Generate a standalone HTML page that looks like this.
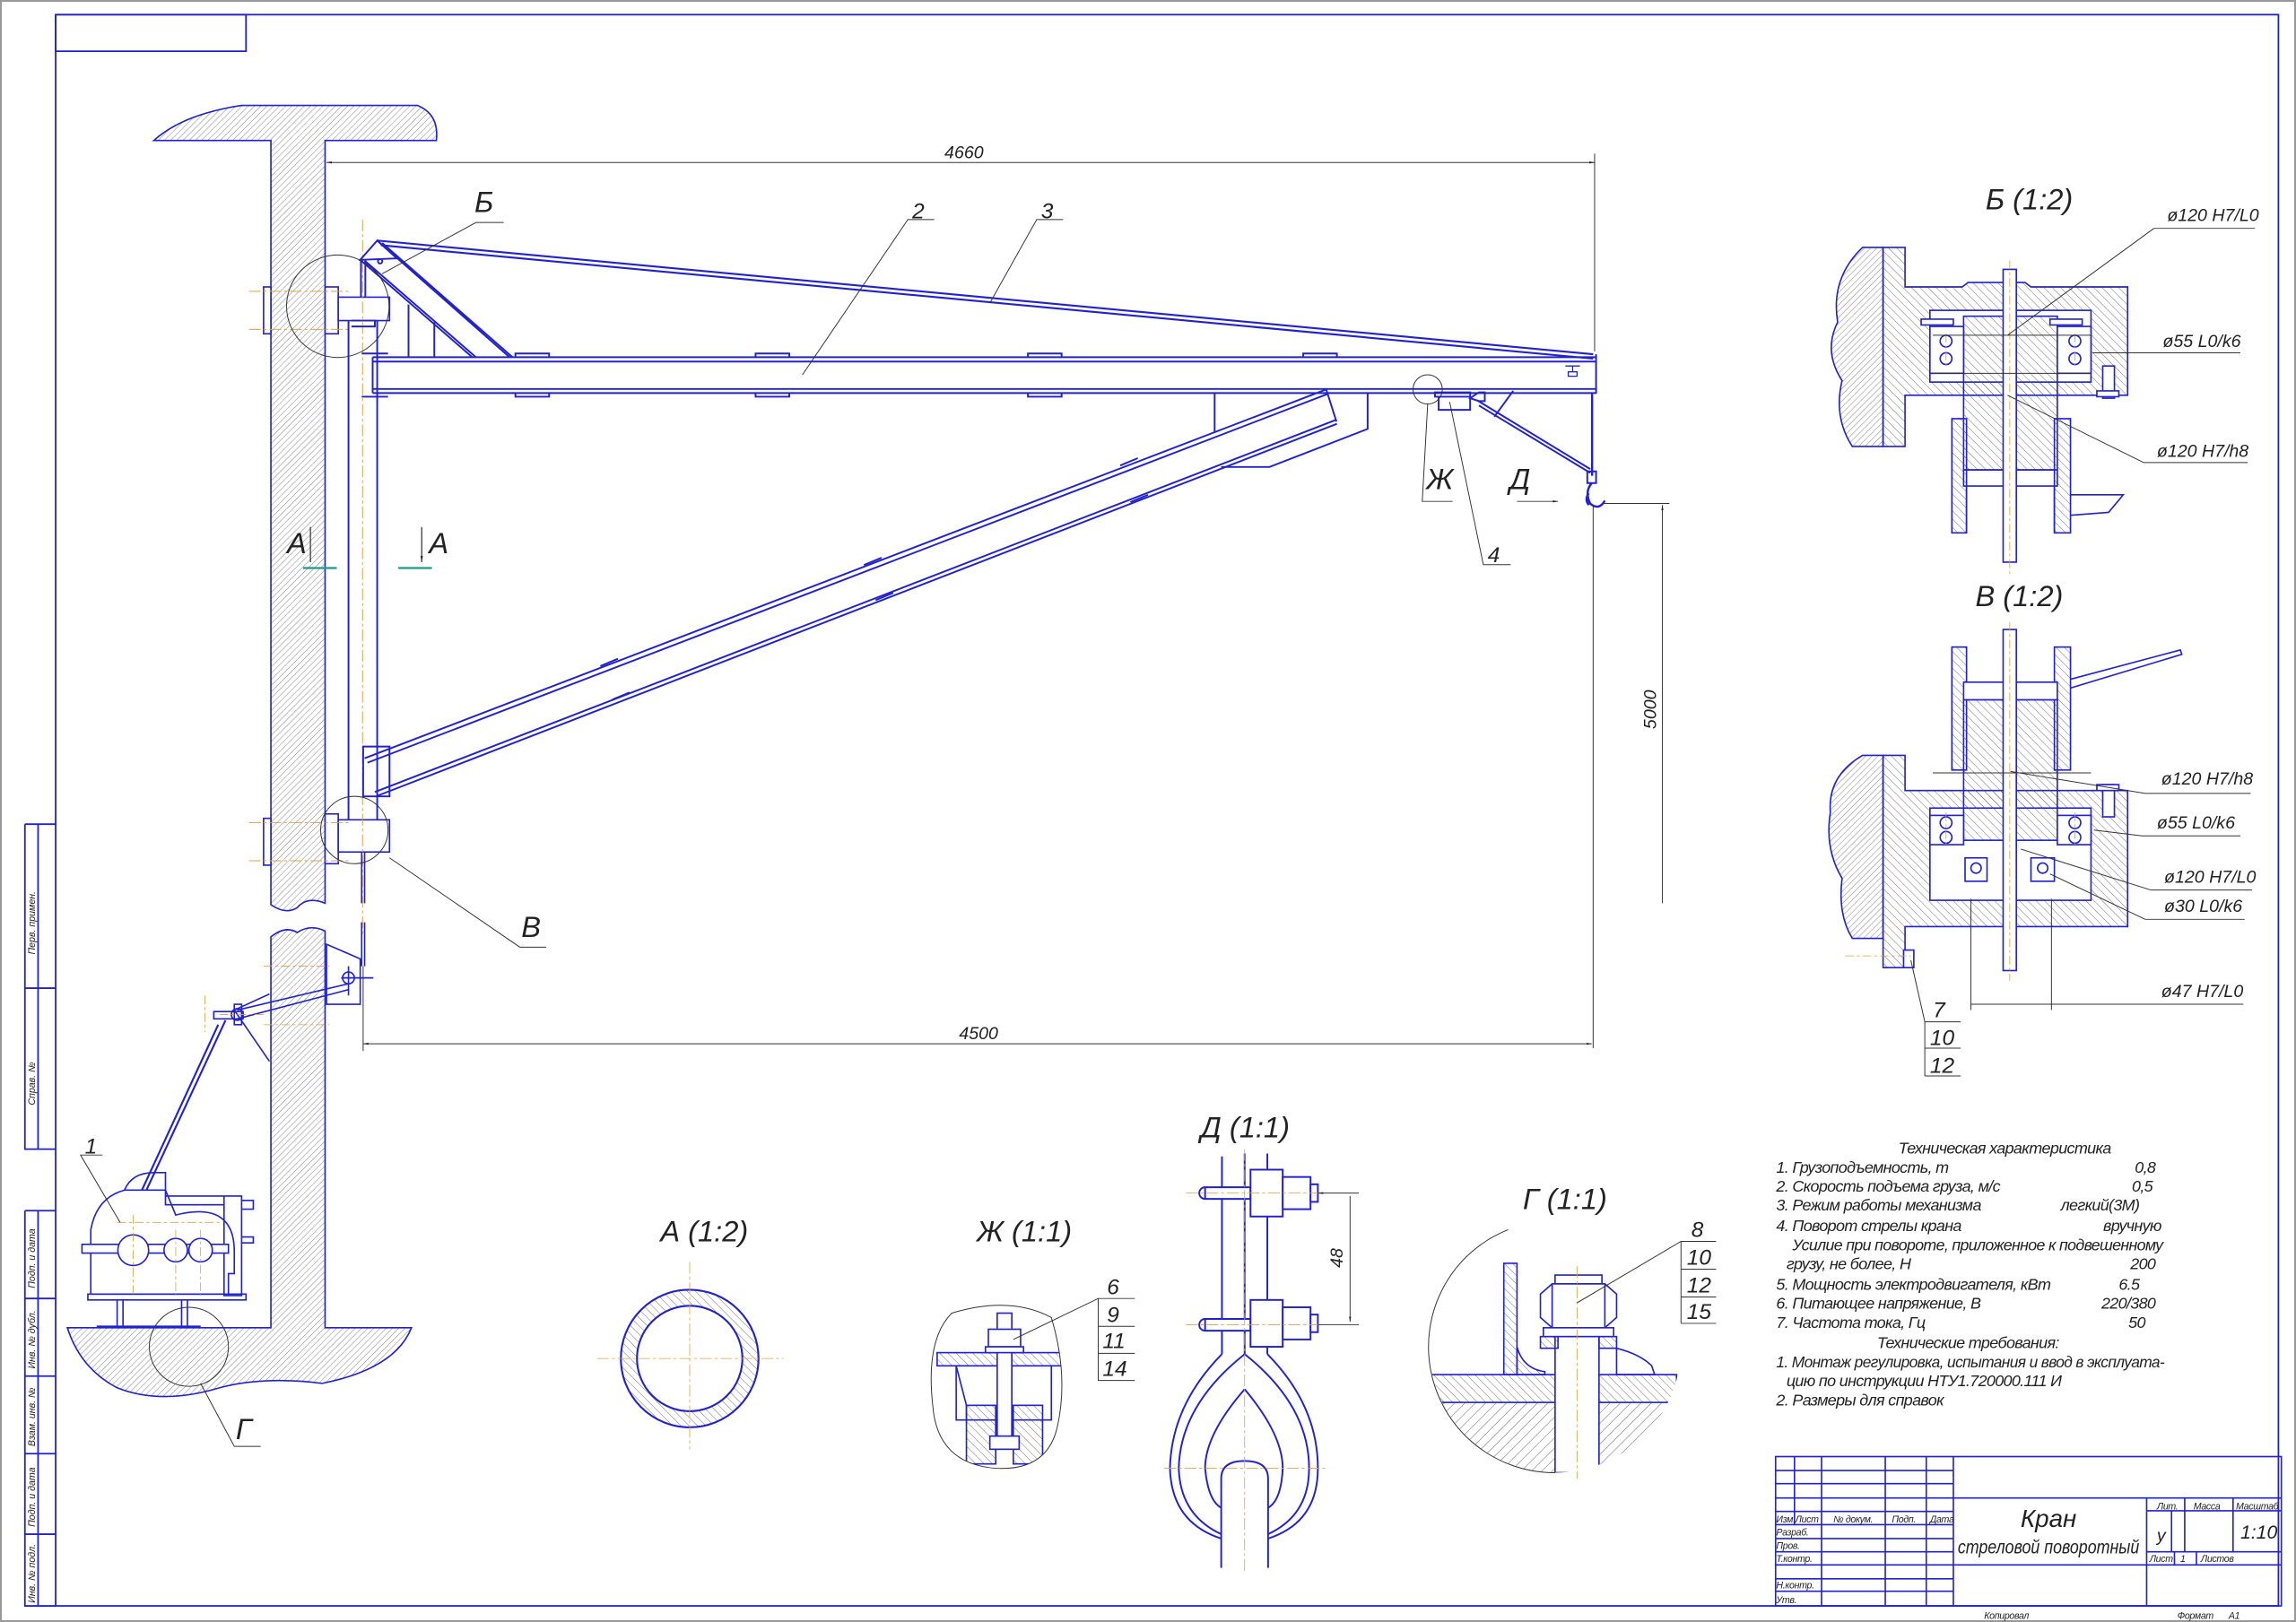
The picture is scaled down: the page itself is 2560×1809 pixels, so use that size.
<!DOCTYPE html>
<html><head><meta charset="utf-8"><style>
html,body{margin:0;padding:0;background:#fff}
svg{display:block}
text{font-family:"Liberation Sans Narrow","Liberation Sans",sans-serif;font-style:italic;fill:#222}
</style></head><body>
<svg width="2560" height="1809" viewBox="0 0 1568 1108" preserveAspectRatio="none" xmlns="http://www.w3.org/2000/svg">
<defs>
<pattern id="h" width="3" height="3" patternUnits="userSpaceOnUse" patternTransform="rotate(45)"><line x1="0" y1="0" x2="0" y2="3" stroke="#666" stroke-width="0.5"/></pattern>
<pattern id="h2" width="4" height="4" patternUnits="userSpaceOnUse" patternTransform="rotate(-45)"><line x1="0" y1="0" x2="0" y2="4" stroke="#555" stroke-width="0.5"/></pattern>
<pattern id="h3" width="5" height="5" patternUnits="userSpaceOnUse" patternTransform="rotate(45)"><line x1="0" y1="0" x2="0" y2="5" stroke="#444" stroke-width="0.5"/></pattern>
<marker id="ar" viewBox="0 0 10 10" refX="10" refY="5" markerWidth="6" markerHeight="6" orient="auto-start-reverse"><path d="M0,3L10,5L0,7z" fill="#222"/></marker>
<clipPath id="gclip"><circle cx="1062" cy="920" r="86"/></clipPath>
<clipPath id="zclip"><path d="M650,897 Q690,885 718,900 Q730,940 722,975 Q715,1005 680,1003 Q640,1000 637,960 Q632,915 650,897z"/></clipPath>
</defs>
<rect x="0.5" y="0.5" width="1567" height="1107" fill="none" stroke="#999" stroke-width="1.5"/>
<g fill="none" stroke="#2222cc" stroke-width="1.1">
<rect x="38" y="10" width="1518" height="1087"/>
<rect x="38" y="10" width="130" height="25"/>
<path d="M17,563H38M17,563V785H38M26,563V785M17,675H38M17,827H38M17,827V1097H38M26,827V1097M17,887H38M17,940H38M17,993H38M17,1048H38"/>
</g>
<g font-size="6.5">
<text transform="translate(24,652) rotate(-90)">Перв. примен.</text>
<text transform="translate(24,755) rotate(-90)">Справ. №</text>
<text transform="translate(24,880) rotate(-90)">Подп. и дата</text>
<text transform="translate(24,935) rotate(-90)">Инв. № дубл.</text>
<text transform="translate(24,988) rotate(-90)">Взам. инв. №</text>
<text transform="translate(24,1043) rotate(-90)">Подп. и дата</text>
<text transform="translate(24,1095) rotate(-90)">Инв. № подл.</text>
</g>

<g stroke="#2222cc" stroke-width="1" fill="url(#h)">
<path d="M105,96 Q125,78 165,72 L285,72 Q300,78 298,96 L222,96 L222,617 Q210,612 203,620 Q195,625 185,618 L185,96 Z"/>
<path d="M185,640 Q195,632 203,637 Q212,631 222,636 L222,907 L281,907 Q270,935 220,945 Q180,940 150,948 Q110,960 80,948 Q55,935 46,907 L185,907 Z"/>
</g>
<g fill="#fff" stroke="#2222cc" stroke-width="1">
<rect x="180" y="196" width="5" height="32"/>
<rect x="222" y="196" width="9" height="32"/>
<rect x="231" y="203" width="35" height="16"/>
<rect x="180" y="559" width="5" height="32"/>
<rect x="222" y="556" width="9" height="34"/>
<rect x="231" y="560" width="35" height="22"/>
</g>
<g stroke="#e0a040" stroke-width="0.6" fill="none" stroke-dasharray="8,2,2,2">
<path d="M170,199H238M170,225H238M247.6,150V640M170,562H240M170,588H240"/>
</g>
<g stroke="#2222cc" stroke-width="1.2" fill="none">
<path d="M238,219V560M257.6,219V560M240,219h16v4h-16"/>
<path d="M246.5,178V203M249.5,178V203"/>
<path d="M246,177.5L257.6,164.3L271,176.5Z"/>
<circle cx="259.6" cy="178.5" r="1.5"/>
<path d="M246,177.5L322.5,244M249,178L325,244M257.6,164.3L348,244M261,166L350,244"/>
<path d="M279,208V244M296.6,220V244"/>
<path d="M257.6,164.3L1088,242M260,167.5L1088,245" stroke-width="1.3"/>
<path d="M254.5,244H1090M254.5,247H1090M254.5,265.7H1090M254.5,268.5H1090M254.5,244V268.5M1090,242V269" />
<path d="M247,241.5H265M247,271H265"/>
<path d="M352,244v-2.5h23v2.5M352,268.5v2.5h23v-2.5M516,244v-2.5h23v2.5M516,268.5v2.5h23v-2.5M702,244v-2.5h23v2.5M702,268.5v2.5h23v-2.5M890,244v-2.5h23v2.5"/>
<path d="M1069,250h10M1074,250v4M1071,254h6v3h-6z" stroke-width="0.8"/>
<path d="M249,518L905.7,266M251,521L907,269M256,541L912.7,286.7M258,543.5L913,289.5M905.7,266L912.7,288"/>
<path d="M248,510H266V544H248Z"/>
<path d="M410,455l12,-5M418,478l12,-5M590,386l12,-5M598,410l12,-5M765,318l12,-5M772,343l12,-5"/>
<path d="M829.5,268V295M934,268V293L867,319H834"/>
<path d="M980,268h24v3h-24zM982.5,271h21.5v9h-21.5zM1004,272l6,-4h4v6h-4z"/>
<path d="M1008.8,273.5L1086,320.4M1010,277L1086,323M1020.5,284.7L1033.4,267"/>
<path d="M1087.3,269V325" stroke-width="1.5"/>
<path d="M1084,322h6v8h-6z"/>
<path d="M1087,330 q-5,6 -1,14 q6,5 10,-2 M1085,337 q-3,4 0,8" stroke-width="1.5"/>
</g>
<g fill="none" stroke="#333" stroke-width="0.6">
<circle cx="230.7" cy="209.2" r="35"/>
<circle cx="242" cy="567" r="23"/>
<circle cx="975" cy="266" r="10"/>
<circle cx="129" cy="920" r="27"/>
</g>
<g stroke="#2222cc" stroke-width="1" fill="none">
<path d="M247,582V617M249,582V617M247,630V660M249,630V660" />
<path d="M223,645L246,655L246,686L223,686Z"/>
<circle cx="238" cy="668" r="4"/>
<path d="M233,668h22M238,660v20"/>
<path d="M184,679L160,690L184,725"/>
<circle cx="162" cy="693" r="4"/>
<path d="M146,691h20v5h-20z"/>
<path d="M160,686h5v14h-5z"/>
<path d="M162,690L238,672M162,696L238,676" />
<path d="M154,697L93,828M149,700L90,828" stroke-width="1.3"/>
<path d="M62,884V840Q66,818 85,813H113L120,830Q160,820 160,855V870H156V884Z" fill="#fff"/>
<path d="M113,817h40v6h-40z M153,817h12v68h-12z M165,820h8v6h-8zM165,845h8v4h-8z"/>
<path d="M56,850h100v6h-100z" fill="#fff"/>
<circle cx="91" cy="854" r="10.5" fill="#fff"/>
<circle cx="120" cy="854" r="8" fill="#fff"/>
<circle cx="137" cy="854" r="8" fill="#fff"/>
<path d="M60,884h108v4h-108zM80,888v18M84,888v18M124,888v18M128,888v18M66,906h71"/>
<path d="M85,813q5,-12 20,-12h8v16"/>
</g>
<g stroke="#e0a040" stroke-width="0.5" fill="none" stroke-dasharray="6,2,2,2"><path d="M80,835h70M91,830v55M120,840v45M137,840v45M140,680v25M150,693h30M180,660h45M180,700h45"/></g>
<g stroke="#333" stroke-width="0.6" fill="none">
<path d="M1089,105V240M1088,345V716"/>
<path d="M223,111H1089" marker-start="url(#ar)" marker-end="url(#ar)"/>
<path d="M248,713H1087" marker-start="url(#ar)" marker-end="url(#ar)"/>
<path d="M248,660V718"/>
<path d="M1135.3,345V617" marker-start="url(#ar)"/>
<path d="M1095,343.9H1140"/>
<path d="M344,152H325L261,187"/>
<path d="M638,150H620L548,256"/>
<path d="M726,150H708L676,207"/>
<path d="M373,647H355L266,586"/>
<path d="M70,789H55L82,835"/>
<path d="M178,988H160L137,945"/>
<path d="M992,342.5H971.3L975,276"/>
<path d="M1031.7,385.7H1013L990,274.5"/>
<path d="M1036,342.5H1064" marker-end="url(#ar)"/>
</g>
<g stroke="#229988" stroke-width="1.4"><path d="M207,388H230M272,388H295"/></g>
<g stroke="#222" stroke-width="0.7" fill="none"><path d="M212,360V384M288,360V384" marker-end="url(#ar)"/></g>
<g font-size="12" font-style="italic">
<text x="645" y="108">4660</text>
<text x="655" y="710">4500</text>
<text transform="translate(1131,498) rotate(-90)">5000</text>
<text x="623" y="149" font-size="15">2</text>
<text x="711" y="149" font-size="15">3</text>
<text x="58" y="788" font-size="15">1</text>
<text x="1016" y="384" font-size="15">4</text>
</g>
<g font-size="20" style="font-style:normal">
<text x="324" y="145">Б</text>
<text x="196" y="378">А</text>
<text x="293" y="378">А</text>
<text x="356" y="640">В</text>
<text x="161" y="983">Г</text>
<text x="974" y="334">Ж</text>
<text x="1031" y="334">Д</text>
</g>

<text x="1356" y="143" font-size="20">Б (1:2)</text>
<g stroke="#2222cc" stroke-width="1">
<path d="M1272,169 L1286,169 L1286,305 L1265,305 Q1252,285 1258,260 Q1245,240 1255,220 Q1250,190 1272,169Z" fill="url(#h)"/>
<path d="M1286,169H1301V196H1340L1344,193H1383L1387,196H1453V270H1301V305H1286Z" fill="url(#h2)"/>
<rect x="1318" y="212" width="110" height="49" fill="#fff"/>
<rect x="1341" y="216" width="64" height="105" fill="url(#h2)"/>
<rect x="1318" y="223" width="23" height="32" fill="#fff"/><rect x="1405" y="223" width="23" height="32" fill="#fff"/>
<circle cx="1329" cy="233" r="4" fill="none"/><circle cx="1329" cy="245" r="4" fill="none"/>
<circle cx="1417" cy="233" r="4" fill="none"/><circle cx="1417" cy="245" r="4" fill="none"/>
<path d="M1312,218h22v4h-22zM1400,218h22v4h-22z" fill="#fff"/>
<rect x="1333" y="286" width="10" height="78" fill="url(#h2)"/><rect x="1403" y="286" width="11" height="78" fill="url(#h2)"/>
<path d="M1341,321H1405V332H1341ZM1343,332V364M1403,332V364" fill="none"/>
<path d="M1414,338L1450,338L1440,350L1414,352" fill="none"/>
<rect x="1368" y="184" width="9" height="200" fill="#fff"/>
<rect x="1436" y="250" width="8" height="22" fill="#fff"/><path d="M1432,267h15v4h-15z" fill="#fff"/>
</g>
<g stroke="#e0a040" stroke-width="0.5" stroke-dasharray="6,2,2,2"><path d="M1372.5,178V392M1329,228v22M1417,228v22"/></g>
<g stroke="#333" stroke-width="0.6" fill="none">
<path d="M1471,156H1540M1471,156L1371,229"/>
<path d="M1429,241H1530M1320,229H1428M1320,255H1428"/>
<path d="M1464,316H1535M1464,316L1371,270"/>
</g>
<g font-size="12"><text x="1480" y="151">ø120 H7/L0</text><text x="1477" y="237">ø55 L0/k6</text><text x="1473" y="312">ø120 H7/h8</text></g>

<text x="1349" y="414" font-size="20">В (1:2)</text>
<g stroke="#2222cc" stroke-width="1">
<path d="M1272,516 L1286,516 L1286,641 L1265,641 Q1255,625 1258,600 Q1246,580 1250,555 Q1248,530 1272,516Z" fill="url(#h)"/>
<path d="M1286,516H1301V540H1453V633H1301V661H1286Z" fill="url(#h2)"/>
<rect x="1318" y="552" width="110" height="63" fill="#fff"/>
<rect x="1341" y="478" width="64" height="96" fill="url(#h2)"/>
<rect x="1333" y="442" width="10" height="84" fill="url(#h2)"/><rect x="1403" y="442" width="11" height="84" fill="url(#h2)"/>
<path d="M1341,466H1405V478H1341Z" fill="#fff"/>
<rect x="1318" y="557" width="23" height="20" fill="#fff"/><rect x="1405" y="557" width="23" height="20" fill="#fff"/>
<circle cx="1329" cy="562" r="4" fill="none"/><circle cx="1329" cy="572" r="4" fill="none"/>
<circle cx="1417" cy="562" r="4" fill="none"/><circle cx="1417" cy="572" r="4" fill="none"/>
<rect x="1342" y="586" width="15" height="16" fill="#fff"/><rect x="1387" y="586" width="16" height="16" fill="#fff"/>
<circle cx="1349.5" cy="593" r="3.5" fill="none"/><circle cx="1395" cy="593" r="3.5" fill="none"/>
<rect x="1368" y="430" width="9" height="233" fill="#fff"/>
<path d="M1414,464L1489,444L1490,447L1414,470" fill="none"/>
<rect x="1436" y="536" width="8" height="22" fill="#fff"/><path d="M1432,536h15v4h-15z" fill="#fff"/>
<rect x="1300" y="649" width="7" height="12" fill="#fff"/>
</g>
<g stroke="#e0a040" stroke-width="0.5" stroke-dasharray="6,2,2,2"><path d="M1372.5,425V670M1329,555v22M1417,555v22M1260,653h45"/></g>
<g stroke="#333" stroke-width="0.6" fill="none">
<path d="M1320,528H1428M1465,542H1537M1465,542L1373,527"/>
<path d="M1463,571H1530M1463,571L1430,567"/>
<path d="M1469,608H1538M1469,608L1380,580"/>
<path d="M1465,628H1533M1465,628L1400,597"/>
<path d="M1346,614V690M1401,614V690M1346,686H1532"/>
<path d="M1305,656L1314.5,698V735M1314.5,698H1339M1314.5,716H1339M1314.5,735H1339"/>
</g>
<g font-size="12"><text x="1476" y="536">ø120 H7/h8</text><text x="1473" y="566">ø55 L0/k6</text><text x="1478" y="603">ø120 H7/L0</text><text x="1478" y="623">ø30 L0/k6</text><text x="1476" y="681">ø47 H7/L0</text></g>
<g font-size="15"><text x="1320" y="695">7</text><text x="1318" y="714">10</text><text x="1318" y="733">12</text></g>

<text x="451" y="848" font-size="20">А (1:2)</text>
<circle cx="471" cy="928" r="47" fill="url(#h2)" stroke="#2222cc" stroke-width="1.3"/>
<circle cx="471" cy="928" r="36" fill="#fff" stroke="#2222cc" stroke-width="1.3"/>
<path d="M408,928H535M471,862V990" stroke="#e0a040" stroke-width="0.5" stroke-dasharray="8,2,2,2"/>

<text x="667" y="848" font-size="20">Ж (1:1)</text>
<path d="M650,897 Q690,885 718,900 Q730,940 722,975 Q715,1005 680,1003 Q640,1000 637,960 Q632,915 650,897z" fill="none" stroke="#333" stroke-width="0.6"/>
<g clip-path="url(#zclip)" stroke="#2222cc" stroke-width="1">
<rect x="640" y="924" width="90" height="9" fill="url(#h2)"/>
<path d="M653,933H718V970H653Z" fill="#fff"/>
<path d="M653,933L660,960V970" fill="none"/>
<rect x="660" y="960" width="20" height="40" fill="url(#h2)"/><rect x="692" y="960" width="20" height="40" fill="url(#h2)"/>
<rect x="681" y="897" width="10" height="92" fill="#fff"/>
<rect x="675" y="908" width="22" height="12" fill="#fff"/>
<rect x="673" y="920" width="26" height="4" fill="#fff"/>
<rect x="676" y="981" width="20" height="9" fill="#fff"/>
</g>
<g stroke="#333" stroke-width="0.6" fill="none"><path d="M692,915L750,887H775M750,887V943H775M750,906H775M750,924.5H775M750,943H775"/></g>
<g font-size="15"><text x="756" y="884">6</text><text x="756" y="903">9</text><text x="753" y="921">11</text><text x="753" y="940">14</text></g>

<text x="820" y="777" font-size="20">Д (1:1)</text>
<g stroke="#2222cc" stroke-width="1.2" fill="#fff">
<path d="M834.5,790V925M865.5,788V925M850,788V925" fill="none"/>
<path d="M834.5,925 Q800,960 799,1003 Q800,1040 834,1051 M865.5,925 Q900,960 900,1003 Q900,1040 866,1051 M850,925 Q806,960 805,1003 Q806,1035 834,1048 M850,925 Q894,960 894,1003 Q894,1035 866,1048" fill="none"/>
<path d="M850,949 Q823,980 823,1003 Q825,1025 834,1030 M850,949 Q876,980 876,1003 Q875,1025 866,1030" fill="none"/>
<path d="M834,1071V1010 Q834,998 850,998 Q866,998 866,1010V1071" />
<path d="M823,811h31v8h-31z M823,811a4,4 0 0 0 0,8"/>
<rect x="854" y="799" width="22" height="32"/><rect x="876" y="804" width="19" height="22"/><rect x="895" y="809" width="5" height="12"/>
<path d="M823,901h31v8h-31z M823,901a4,4 0 0 0 0,8"/>
<rect x="854" y="888" width="22" height="32"/><rect x="876" y="893" width="19" height="22"/><rect x="895" y="898" width="5" height="12"/>
</g>
<g stroke="#e0a040" stroke-width="0.5" stroke-dasharray="8,2,2,2"><path d="M850,785V1075M810,815H905M810,905H905M795,1003H905"/></g>
<g stroke="#333" stroke-width="0.6" fill="none"><path d="M900,815H928M900,905H928M922,817V903" marker-start="url(#ar)" marker-end="url(#ar)"/></g>
<text transform="translate(917,866) rotate(-90)" font-size="12">48</text>

<text x="1040" y="826" font-size="20">Г (1:1)</text>
<path d="M1030,840 A86,86 0 0 0 1062,1006" fill="none" stroke="#333" stroke-width="0.6"/>
<g clip-path="url(#gclip)" stroke="#2222cc" stroke-width="1">
<rect x="975" y="939" width="170" height="19" fill="url(#h2)"/>
<rect x="975" y="958" width="170" height="60" fill="url(#h3)" stroke="none"/>
<path d="M1027,863V939H1036V863Z" fill="url(#h2)"/>
<path d="M1036,920 Q1040,935 1055,937 V939H1036Z" fill="url(#h2)"/>
<rect x="1062" y="913" width="30" height="93" fill="#fff"/>
<path d="M1052,913h12v8h-12zM1092,913h12v8h-12z" fill="url(#h2)"/>
<path d="M1104,921 Q1120,925 1128,933 L1130,939H1104Z" fill="none"/>
<path d="M1052,884 L1060,877H1096L1104,884V900L1096,907H1060L1052,900Z" fill="#fff"/>
<path d="M1060,877V907M1096,877V907M1062,871h32v6h-32z" fill="none"/>
<rect x="1054" y="907" width="48" height="6" fill="#fff"/>
</g>
<g stroke="#e0a040" stroke-width="0.5" stroke-dasharray="8,2,2,2"><path d="M1077,865V1010"/></g>
<g stroke="#333" stroke-width="0.6" fill="none"><path d="M1077,890L1148,848H1172M1148,848V904M1148,867H1172M1148,886H1172M1148,904H1172"/></g>
<g font-size="15"><text x="1155" y="845">8</text><text x="1152" y="864">10</text><text x="1152" y="883">12</text><text x="1152" y="901">15</text></g>

<g font-size="11" letter-spacing="-0.4">
<text x="1369" y="788" text-anchor="middle">Техническая характеристика</text>
<text x="1213" y="801">1. Грузоподъемность, т</text><text x="1472" y="801" text-anchor="end">0,8</text>
<text x="1213" y="814">2. Скорость подъема груза, м/с</text><text x="1470" y="814" text-anchor="end">0,5</text>
<text x="1213" y="827">3. Режим работы механизма</text><text x="1461" y="827" text-anchor="end">легкий(3М)</text>
<text x="1213" y="841">4. Поворот стрелы крана</text><text x="1476" y="841" text-anchor="end">вручную</text>
<text x="1224" y="854" textLength="253" lengthAdjust="spacingAndGlyphs">Усилие при повороте, приложенное к подвешенному</text>
<text x="1220" y="867">грузу, не более, Н</text><text x="1472" y="867" text-anchor="end">200</text>
<text x="1213" y="881">5. Мощность электродвигателя, кВт</text><text x="1461" y="881" text-anchor="end">6.5</text>
<text x="1213" y="894">6. Питающее напряжение, В</text><text x="1472" y="894" text-anchor="end">220/380</text>
<text x="1213" y="907">7. Частота тока, Гц</text><text x="1465" y="907" text-anchor="end">50</text>
<text x="1344" y="921" text-anchor="middle">Технические требования:</text>
<text x="1213" y="934" textLength="265" lengthAdjust="spacingAndGlyphs">1. Монтаж регулировка, испытания и ввод в эксплуата-</text>
<text x="1220" y="947">цию по инструкции НТУ1.720000.111 И</text>
<text x="1213" y="960">2. Размеры для справок</text>
</g>

<g stroke="#2222cc" stroke-width="1" fill="none">
<rect x="1212.6" y="995" width="345.4" height="102"/>
<path d="M1225.5,995V1041.5M1244,995V1097M1287.5,995V1097M1315.5,995V1097M1334,995V1097"/>
<path d="M1212.6,1004.5H1334M1212.6,1013.5H1334M1212.6,1023.3H1558M1212.6,1032.5H1334M1212.6,1041.5H1334M1212.6,1051H1334M1212.6,1060H1334M1212.6,1069H1558M1212.6,1078.5H1334M1212.6,1087H1334"/>
<path d="M1466,1023.3V1097M1492,1023.3V1060M1525,1023.3V1060M1483,1032V1060M1466,1032H1558M1466,1060H1558M1485,1060V1069M1500,1060V1069"/>
</g>
<g font-size="6.5" letter-spacing="-0.2">
<text x="1213" y="1040">Изм.</text><text x="1226" y="1040">Лист</text><text x="1252" y="1040">№ докум.</text><text x="1292" y="1040">Подп.</text><text x="1318" y="1040">Дата</text>
<text x="1213" y="1049">Разраб.</text><text x="1213" y="1058">Пров.</text><text x="1213" y="1067">Т.контр.</text>
<text x="1213" y="1085">Н.контр.</text><text x="1213" y="1095">Утв.</text>
<text x="1473" y="1031">Лит.</text><text x="1498" y="1031">Масса</text><text x="1527" y="1031">Масштаб</text>
<text x="1468" y="1067">Лист</text><text x="1489" y="1067">1</text><text x="1503" y="1067">Листов</text>
<text x="1355" y="1106">Копировал</text><text x="1487" y="1106">Формат</text><text x="1522" y="1106">А1</text>
</g>
<text x="1399" y="1043" font-size="17" text-anchor="middle">Кран</text>
<text x="1399" y="1061" font-size="13" text-anchor="middle" textLength="124" lengthAdjust="spacingAndGlyphs">стреловой поворотный</text>
<text x="1473" y="1053" font-size="12">у</text>
<text x="1530" y="1051" font-size="13">1:10</text>
</svg>
</body></html>
